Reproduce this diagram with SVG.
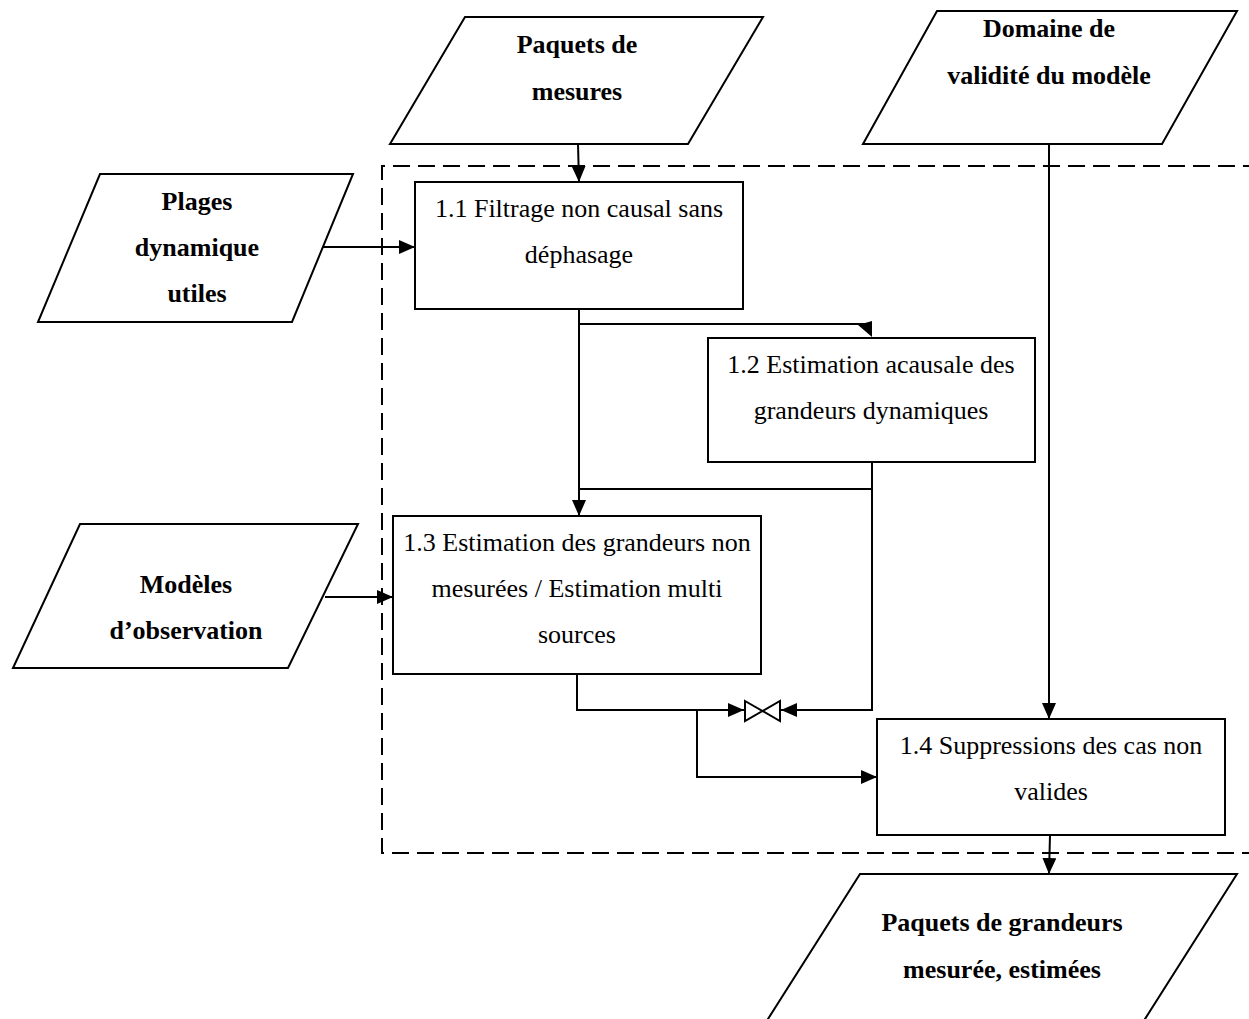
<svg xmlns="http://www.w3.org/2000/svg" width="1249" height="1019" viewBox="0 0 1249 1019">
<style>
.shape{fill:#fff;stroke:#000;stroke-width:2}
.lbl{font-family:'Liberation Serif',Tinos,'Times New Roman','Nimbus Roman','DejaVu Serif',serif;font-size:26px;fill:#000;text-anchor:middle}
.b{font-weight:bold}
.wire{fill:none;stroke:#000;stroke-width:2}
.dash{fill:none;stroke:#000;stroke-width:2;stroke-dasharray:17 8}
</style>
<defs>
<marker id="arr" markerUnits="userSpaceOnUse" markerWidth="16" markerHeight="14" refX="16" refY="7" orient="auto">
<path d="M0,0 L16,7 L0,14 z" fill="#000"/>
</marker>
</defs>
<rect width="1249" height="1019" fill="#fff"/>
<path id="boundary" class="dash" d="M1260,166 H382 V853 H1260"/>

<g id="in-paquets-mesures">
<polygon class="shape" points="465,17 763,17 688,144 390,144"/>
<text class="lbl b" x="577" y="53">Paquets de</text>
<text class="lbl b" x="577" y="100">mesures</text>
</g>
<g id="in-domaine">
<polygon class="shape" points="937,11 1237,11 1162,144 863,144"/>
<text class="lbl b" x="1049" y="37">Domaine de</text>
<text class="lbl b" x="1049" y="84">validité du modèle</text>
</g>
<g id="in-plages">
<polygon class="shape" points="100,174 353,174 292,322 38,322"/>
<text class="lbl b" x="197" y="210">Plages</text>
<text class="lbl b" x="197" y="256">dynamique</text>
<text class="lbl b" x="197" y="302">utiles</text>
</g>
<g id="in-modeles">
<polygon class="shape" points="80,524 358,524 288,668 13,668"/>
<text class="lbl b" x="186" y="593">Modèles</text>
<text class="lbl b" x="186" y="639">d’observation</text>
</g>
<g id="out-paquets-grandeurs">
<polygon class="shape" points="860,874 1237,874 1138,1030 761,1030"/>
<text class="lbl b" x="1002" y="931">Paquets de grandeurs</text>
<text class="lbl b" x="1002" y="978">mesurée, estimées</text>
</g>

<g id="p11">
<rect class="shape" x="415" y="182" width="328" height="127"/>
<text class="lbl" x="579" y="217">1.1 Filtrage non causal sans</text>
<text class="lbl" x="579" y="263">déphasage</text>
</g>
<g id="p12">
<rect class="shape" x="708" y="338" width="327" height="124"/>
<text class="lbl" x="871" y="373">1.2 Estimation acausale des</text>
<text class="lbl" x="871" y="419">grandeurs dynamiques</text>
</g>
<g id="p13">
<rect class="shape" x="393" y="516" width="368" height="158"/>
<text class="lbl" x="577" y="551">1.3 Estimation des grandeurs non</text>
<text class="lbl" x="577" y="597">mesurées / Estimation multi</text>
<text class="lbl" x="577" y="643">sources</text>
</g>
<g id="p14">
<rect class="shape" x="877" y="719" width="348" height="116"/>
<text class="lbl" x="1051" y="754">1.4 Suppressions des cas non</text>
<text class="lbl" x="1051" y="800">valides</text>
</g>

<g id="connectors">
<path class="wire" d="M578,144 L579,182" marker-end="url(#arr)"/>
<path class="wire" d="M323,247 H415" marker-end="url(#arr)"/>
<path class="wire" d="M325,597 H393" marker-end="url(#arr)"/>
<path class="wire" d="M579,309 V324 H872"/>
<polygon points="858,325 872,321 872,337" fill="#000"/>
<path class="wire" d="M579,324 V516" marker-end="url(#arr)"/>
<path class="wire" d="M872,462 V710 H781" marker-end="url(#arr)"/>
<path class="wire" d="M872,489 H579"/>
<path class="wire" d="M577,674 V710 H744" marker-end="url(#arr)"/>
<path class="wire" d="M697,710 V777 H877" marker-end="url(#arr)"/>
<path class="wire" d="M1049,144 V719" marker-end="url(#arr)"/>
<path class="wire" d="M1050,835 L1049,874" marker-end="url(#arr)"/>
<g id="valve">
<polygon class="shape" points="745,701 780,721 780,701 745,721"/>
</g>
</g>
</svg>
